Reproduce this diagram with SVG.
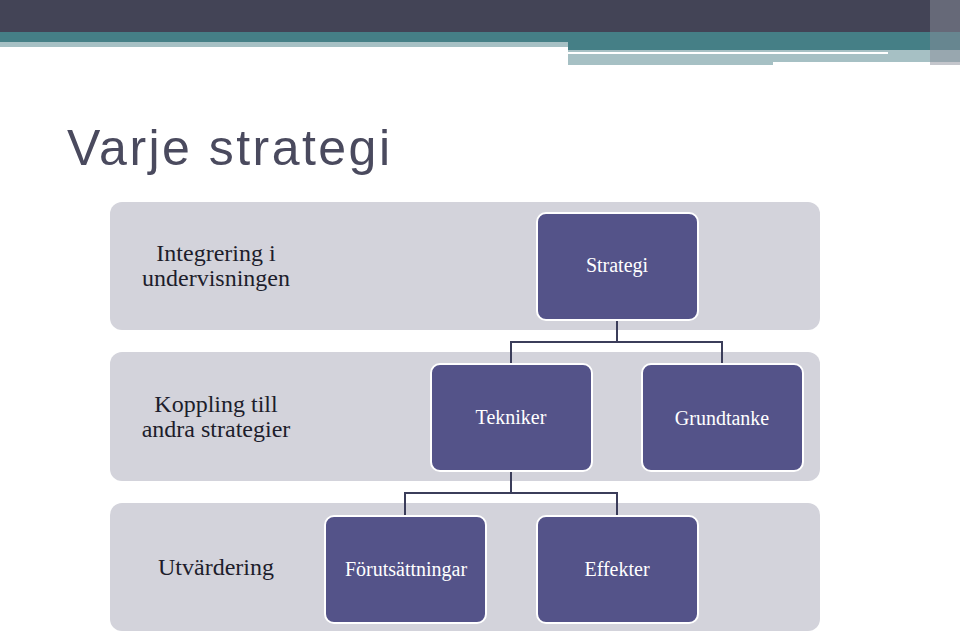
<svg xmlns="http://www.w3.org/2000/svg" width="960" height="635" viewBox="0 0 960 635">
<style>
.band{fill:#d3d3db}
.node{fill:#545389;stroke:#fff;stroke-width:2}
.bt{font-family:"Liberation Serif",serif;font-size:24px;fill:#1d1d2b;text-anchor:middle}
.nt{font-family:"Liberation Serif",serif;font-size:20px;fill:#fff;text-anchor:middle}
.c{fill:none;stroke:#3b3d5a;stroke-width:2}
</style>
<rect width="960" height="635" fill="#fff"/>
<rect x="0" y="0" width="960" height="32" fill="#434456"/>
<rect x="0" y="32" width="960" height="10" fill="#457f86"/>
<rect x="0" y="42" width="568" height="5" fill="#a6c0c4"/>
<rect x="568" y="42" width="392" height="8" fill="#457f86"/>
<rect x="568" y="50" width="392" height="15" fill="#a6c0c4"/>
<rect x="568" y="52" width="320" height="2" fill="#fff"/>
<rect x="773" y="62" width="187" height="3" fill="#fff"/>
<rect x="930" y="0" width="30" height="65" fill="#8a8e99" opacity="0.5"/>
<text x="67" y="165" font-family="Liberation Sans,sans-serif" font-size="50" fill="#4a4a5e" textLength="323">Varje strategi</text>
<g id="band1"><rect class="band" x="110" y="202" width="710" height="128" rx="12"/><text class="bt" x="216" y="261">Integrering i</text><text class="bt" x="216" y="286">undervisningen</text></g>
<g id="band2"><rect class="band" x="110" y="352" width="710" height="129" rx="12"/><text class="bt" x="216" y="412">Koppling till</text><text class="bt" x="216" y="437">andra strategier</text></g>
<g id="band3"><rect class="band" x="110" y="503" width="710" height="128" rx="12"/><text class="bt" x="216" y="575">Utvärdering</text></g>
<g id="connectors">
<path class="c" d="M617 320V342M511 364V342H722V364"/>
<path class="c" d="M511 471V493M405 516V493H617V516"/>
</g>
<g id="strategi"><rect class="node" x="537" y="213" width="161" height="107" rx="9"/><text class="nt" x="617" y="272">Strategi</text></g>
<g id="tekniker"><rect class="node" x="431" y="364" width="161" height="107" rx="9"/><text class="nt" x="511" y="424">Tekniker</text></g>
<g id="grundtanke"><rect class="node" x="642" y="364" width="161" height="107" rx="9"/><text class="nt" x="722" y="425">Grundtanke</text></g>
<g id="forutsattningar"><rect class="node" x="325" y="516" width="161" height="107" rx="9"/><text class="nt" x="406" y="576">Förutsättningar</text></g>
<g id="effekter"><rect class="node" x="537" y="516" width="161" height="107" rx="9"/><text class="nt" x="617" y="576">Effekter</text></g>
</svg>
